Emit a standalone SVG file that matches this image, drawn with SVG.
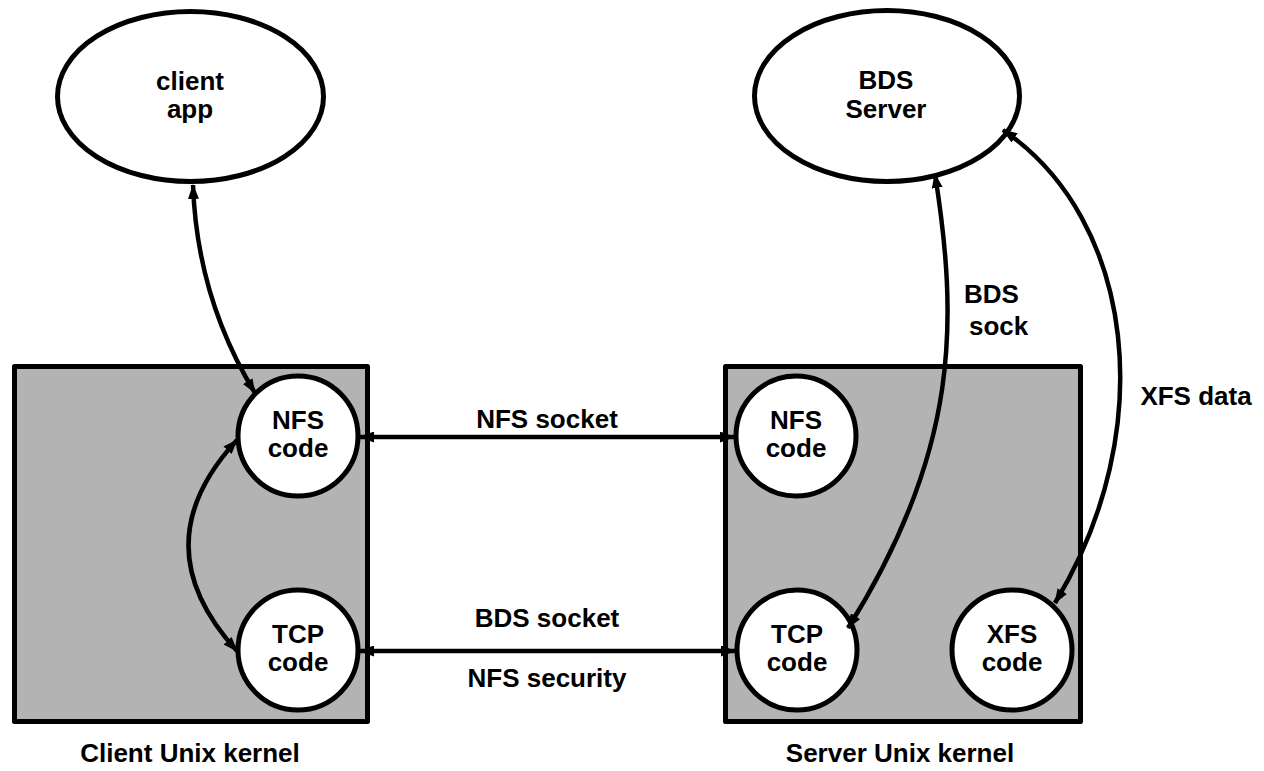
<svg xmlns="http://www.w3.org/2000/svg" width="1264" height="771" viewBox="0 0 1264 771">
  <style>
    .kernel { fill: #b3b3b3; stroke: #000; stroke-width: 5; stroke-linejoin: round; }
    .node { fill: #fff; stroke: #000; stroke-width: 5; }
    .edge { fill: none; stroke: #000; stroke-width: 4.5; marker-start: url(#head); marker-end: url(#head); }
    text { font-family: "Liberation Sans", Arial, Helvetica, sans-serif; font-weight: bold; font-size: 26px; fill: #000; text-anchor: middle; }
    .left { text-anchor: start; }
  </style>
  <defs>
    <marker id="head" viewBox="0 0 15 11" refX="14" refY="5.5" markerWidth="15" markerHeight="11" markerUnits="userSpaceOnUse" orient="auto-start-reverse">
      <path d="M0,0 L15,5.5 L0,11 z" fill="#000"/>
    </marker>
  </defs>
  <rect width="1264" height="771" fill="#fff"/>

  <!-- kernels -->
  <g id="client-kernel">
    <rect class="kernel" x="14.5" y="366.5" width="353" height="355"/>
    <text x="190" y="762">Client Unix kernel</text>
  </g>
  <g id="server-kernel">
    <rect class="kernel" x="725.5" y="366.5" width="355" height="355"/>
    <text x="900" y="762">Server Unix kernel</text>
  </g>

  <!-- user-space processes -->
  <g id="client-app">
    <ellipse class="node" cx="190.5" cy="96.5" rx="133" ry="85"/>
    <text x="190" y="90">client</text>
    <text x="190" y="118">app</text>
  </g>
  <g id="bds-server">
    <ellipse class="node" cx="887" cy="96" rx="132.5" ry="85.5"/>
    <text x="886" y="89">BDS</text>
    <text x="886" y="118">Server</text>
  </g>

  <!-- kernel modules -->
  <g id="client-nfs">
    <circle class="node" cx="298" cy="436" r="60"/>
    <text x="298" y="429">NFS</text>
    <text x="298" y="457">code</text>
  </g>
  <g id="client-tcp">
    <circle class="node" cx="298" cy="650" r="60"/>
    <text x="298" y="643">TCP</text>
    <text x="298" y="671">code</text>
  </g>
  <g id="server-nfs">
    <circle class="node" cx="796" cy="436" r="60"/>
    <text x="796" y="429">NFS</text>
    <text x="796" y="457">code</text>
  </g>
  <g id="server-tcp">
    <circle class="node" cx="797" cy="650" r="60"/>
    <text x="797" y="643">TCP</text>
    <text x="797" y="671">code</text>
  </g>
  <g id="server-xfs">
    <circle class="node" cx="1012" cy="650" r="60"/>
    <text x="1012" y="643">XFS</text>
    <text x="1012" y="671">code</text>
  </g>

  <!-- connectors -->
  <g id="connectors">
    <path class="edge" d="M193,185 Q197,298 255,393"/>
    <path class="edge" d="M237,440 Q140,545 237,651"/>
    <path class="edge" d="M360,437 L734,437"/>
    <path class="edge" d="M360,651 L735,651"/>
    <path class="edge" d="M935,174 C958,320 960,450 848,628"/>
    <path class="edge" d="M1003,130 C1135,220 1160,430 1055,603"/>
    <text x="547" y="428">NFS socket</text>
    <text x="547" y="627">BDS socket</text>
    <text x="547" y="687">NFS security</text>
    <text class="left" x="964" y="303">BDS</text>
    <text class="left" x="969" y="335">sock</text>
    <text x="1196" y="405">XFS data</text>
  </g>
</svg>
